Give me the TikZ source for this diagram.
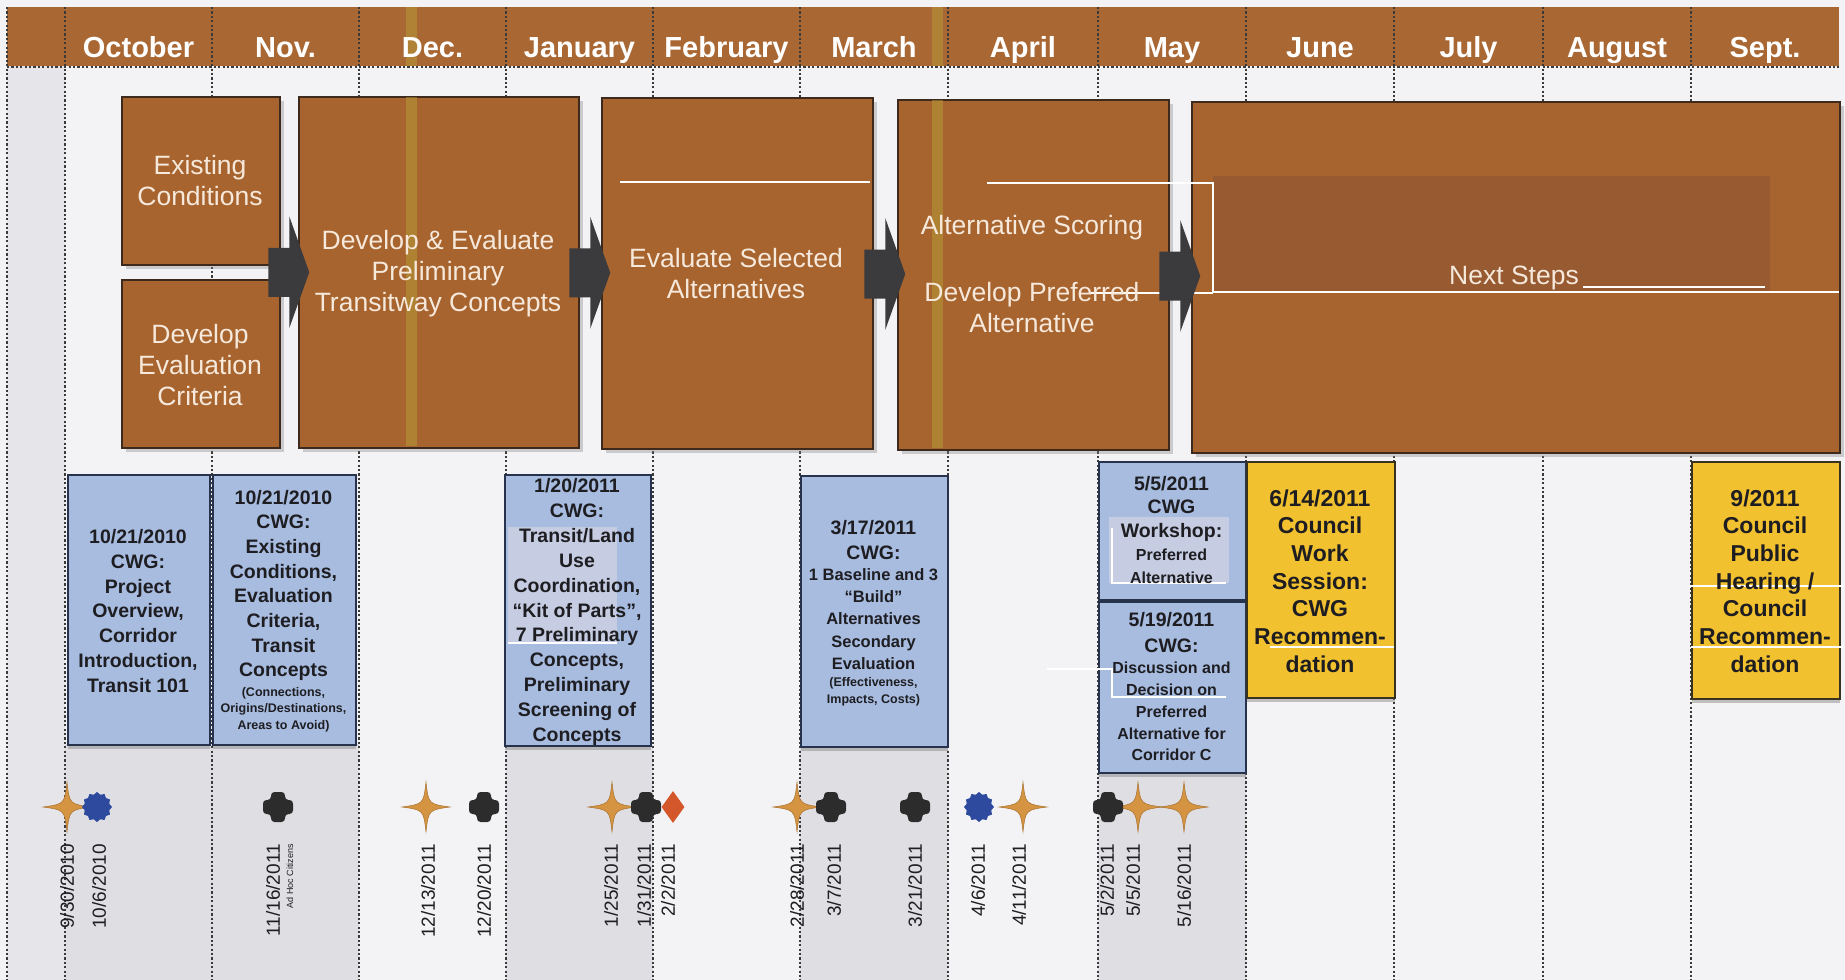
\documentclass[tikz,border=0pt]{standalone}
\usepackage{fontspec}
\setmainfont{Liberation Sans}
\usetikzlibrary{shapes.geometric,shadows,calc}
\definecolor{hdrcol}{HTML}{A96733}
\definecolor{boxbrown}{HTML}{A7642F}
\definecolor{boxedge}{HTML}{3E2A1C}
\definecolor{stripecol}{HTML}{B9A538}
\definecolor{bgcol}{HTML}{F3F3F5}
\definecolor{leftcol}{HTML}{E6E6EA}
\definecolor{shadecol}{HTML}{DFDFE3}
\definecolor{gridcol}{HTML}{3A3A3A}
\definecolor{proctextcol}{HTML}{F6E9DC}
\definecolor{bluefill}{HTML}{A8BCE0}
\definecolor{bluedge}{HTML}{27324D}
\definecolor{yellowfill}{HTML}{F2C12F}
\definecolor{yellowedge}{HTML}{3A3220}
\definecolor{inkcol}{HTML}{1E1E22}
\definecolor{arrowcol}{HTML}{3B3B3D}
\definecolor{starcol}{HTML}{D49442}
\definecolor{stardark}{HTML}{A8702E}
\definecolor{bluemark}{HTML}{2D4A9E}
\definecolor{darkmark}{HTML}{2C2C2C}
\definecolor{redmark}{HTML}{D4572B}
\definecolor{nsdark}{HTML}{975A31}
\definecolor{patchcol}{HTML}{C6CCE1}
\tikzset{
  gridline/.style={draw=gridcol, line width=1.6pt, dash pattern=on 2.2pt off 2.2pt},
  monthlbl/.style={font=\fontsize{29}{33}\selectfont\bfseries, text=white, inner sep=0, anchor=base},
  procbox/.style={fill=boxbrown, draw=boxedge, line width=1.5pt, inner sep=0, anchor=north west,
    drop shadow={shadow xshift=4pt, shadow yshift=-4pt, opacity=.35}},
  proctext/.style={font=\fontsize{26.5}{31}\selectfont, text=proctextcol, align=center, inner sep=0},
  bluebox/.style={fill=bluefill, draw=bluedge, line width=2pt, inner sep=0, anchor=north west,
    drop shadow={shadow xshift=0pt, shadow yshift=-4pt, opacity=.45}},
  yellowbox/.style={fill=yellowfill, draw=yellowedge, line width=2pt, inner sep=0, anchor=north west,
    drop shadow={shadow xshift=0pt, shadow yshift=-4pt, opacity=.45}},
  cwgtext/.style={font=\fontsize{19.5}{24.7}\selectfont\bfseries, text=inkcol, align=center, inner sep=0},
  midtext/.style={font=\fontsize{16.5}{22.4}\selectfont\bfseries, text=inkcol, align=center, inner sep=0},
  smalltext/.style={font=\fontsize{12.5}{16.5}\selectfont\bfseries, text=inkcol, align=center, inner sep=0},
  yeltext/.style={font=\fontsize{23}{27.7}\selectfont\bfseries, text=inkcol, align=center, inner sep=0},
  datelbl/.style={rotate=90, anchor=east, font=\fontsize{19}{21}\selectfont, text=inkcol, inner sep=0},
  bluedot/.style={star, star points=12, star point ratio=1.18, minimum size=30pt, inner sep=0, fill=bluemark},
  reddiamond/.style={diamond, minimum width=23pt, minimum height=32pt, inner sep=0, fill=redmark},
  artline/.style={draw=white, line width=1.5pt},
  stripe/.style={fill=stripecol, opacity=.45},
  pics/fourstar/.style={code={\fill[starcol, draw=stardark, line width=.5pt]
    (0,-25) .. controls (2.5,-3) .. (24,0) .. controls (2.5,3) .. (0,25)
    .. controls (-2.5,3) .. (-24,0) .. controls (-2.5,-3) .. cycle;}},
  pics/darkcross/.style={code={\fill[darkmark, rounded corners=3.5pt]
    (-7,-15) -- (7,-15) -- (7,-7) -- (15,-7) -- (15,7) -- (7,7) -- (7,15) -- (-7,15)
    -- (-7,7) -- (-15,7) -- (-15,-7) -- (-7,-7) -- cycle;}},
  pics/blockarrow/.style={code={\fill[arrowcol]
    (-21,-24.5) -- (0,-24.5) -- (0,-56) -- (20,0) -- (0,56) -- (0,24.5) -- (-21,24.5) -- cycle;}}
}
\begin{document}
\begin{tikzpicture}[x=1pt,y=-1pt]
\useasboundingbox (0,0) rectangle (1845,980);
% background
\fill[bgcol] (0,0) rectangle (1845,980);
\fill[leftcol] (7,66) rectangle (65,980);
\fill[shadecol] (65,744) rectangle (359,980);
\fill[shadecol] (506,745) rectangle (653,980);
\fill[shadecol] (800,746) rectangle (948,980);
\fill[shadecol] (1098,772) rectangle (1246,980);
% header
\fill[hdrcol] (7,7) rectangle (1839,66);
\fill[stripe] (406,7) rectangle (417,66);
\fill[stripe] (932,7) rectangle (943,66);
% grid
\foreach \gx in {7,65,212,359,506,653,800,948,1098,1246,1394,1543,1691}
  \draw[gridline] (\gx,7) -- (\gx,980);
\draw[gridline] (7,67) -- (1839,67);
% months
\node[monthlbl] (m01) at (138.5,57) {October};
\node[monthlbl] (m02) at (285.5,57) {Nov.};
\node[monthlbl] (m03) at (432.5,57) {Dec.};
\node[monthlbl] (m04) at (579.5,57) {January};
\node[monthlbl] (m05) at (726.5,57) {February};
\node[monthlbl] (m06) at (874,57) {March};
\node[monthlbl] (m07) at (1023,57) {April};
\node[monthlbl] (m08) at (1172,57) {May};
\node[monthlbl] (m09) at (1320,57) {June};
\node[monthlbl] (m10) at (1468.5,57) {July};
\node[monthlbl] (m11) at (1617,57) {August};
\node[monthlbl] (m12) at (1765,57) {Sept.};
% process boxes
\node[procbox, minimum width=158pt, minimum height=168pt] (ec) at (121,96) {};
\node[procbox, minimum width=158pt, minimum height=168pt] (dec) at (121,279) {};
\node[procbox, minimum width=280pt, minimum height=351pt] (dep) at (298,96) {};
\node[procbox, minimum width=271pt, minimum height=351pt] (esa) at (601,97) {};
\node[procbox, minimum width=271pt, minimum height=350pt] (asd) at (897,99) {};
\node[procbox, minimum width=648pt, minimum height=351pt] (ns) at (1191,101) {};
\fill[stripe] (406,97) rectangle (417,446);
\fill[stripe] (932,100) rectangle (943,448);
\fill[nsdark] (1213,176) rectangle (1770,292);
\draw[artline] (620,182) -- (870,182);
\draw[artline] (987,183) -- (1213,183) -- (1213,292) -- (1839,292);
\draw[artline] (1091,293) -- (1213,293);
\draw[artline] (1583,287) -- (1765,287);
\node[proctext] (ect) at (200,181) {Existing\\Conditions};
\node[proctext] (dect) at (200,365) {Develop\\Evaluation\\Criteria};
\node[proctext] (dept) at (438,274) {Develop \& Evaluate\\Preliminary\\Transitway Concepts};
\node[proctext] (esat) at (736,274) {Evaluate Selected\\Alternatives};
\node[proctext] (asdt1) at (1032,228) {Alternative Scoring};
\node[proctext] (asdt2) at (1032,308) {Develop Preferred\\Alternative};
\node[proctext] (nst) at (1514,278) {Next Steps};
% arrows between process boxes
\pic at ($(ec.east |- dep.west)!.5!(dep.west)$) {blockarrow};
\pic at ($(dep.east)!.5!(esa.west)$) {blockarrow};
\pic at ($(esa.east)!.5!(asd.west)$) {blockarrow};
\pic at ($(asd.east)!.5!(ns.west)$) {blockarrow};
% meeting boxes
\node[bluebox, minimum width=142pt, minimum height=270pt] (b1) at (67,474) {};
\node[bluebox, minimum width=143pt, minimum height=270pt] (b2) at (212,474) {};
\node[bluebox, minimum width=146pt, minimum height=271pt] (b3) at (504,474) {};
\node[bluebox, minimum width=147pt, minimum height=271pt] (b4) at (800,475) {};
\node[bluebox, minimum width=147pt, minimum height=138pt] (b5) at (1098,461) {};
\node[bluebox, minimum width=147pt, minimum height=171pt] (b6) at (1098,601) {};
\node[yellowbox, minimum width=148pt, minimum height=236pt] (y1) at (1246,461) {};
\node[yellowbox, minimum width=148pt, minimum height=237pt] (y2) at (1691,461) {};
\fill[patchcol] (508,527) rectangle (617,643);
\draw[artline] (508,643) -- (617,643);
\fill[patchcol] (1109,517) rectangle (1229,583);
\draw[artline] (1112,528) -- (1112,583) -- (1226,583);
\draw[artline] (1047,669) -- (1112,669) -- (1112,697) -- (1226,697);
\draw[artline] (1270,647) -- (1394,647);
\draw[artline] (1691,647) -- (1843,647);
\draw[artline] (1690,586) -- (1843,586);
\node[cwgtext] (b1t) at (138,611) {10/21/2010\\CWG:\\Project\\Overview,\\Corridor\\Introduction,\\Transit 101};
\node[cwgtext] (b2t) at (283.5,585.4) {10/21/2010\\CWG:\\Existing\\Conditions,\\Evaluation\\Criteria,\\Transit\\Concepts};
\node[smalltext] (b2s) at (283.5,709.5) {(Connections,\\Origins/Destinations,\\Areas to Avoid)};
\node[cwgtext, font=\fontsize{19.5}{24.9}\selectfont\bfseries] (b3t) at (577,612) {1/20/2011\\CWG:\\Transit/Land\\Use\\Coordination,\\“Kit of Parts”,\\7 Preliminary\\Concepts,\\Preliminary\\Screening of\\Concepts};
\node[cwgtext, font=\fontsize{19.5}{25}\selectfont\bfseries] (b4t) at (873.5,540.5) {3/17/2011\\CWG:};
\node[midtext] (b4m) at (873.5,619) {1 Baseline and 3\\“Build”\\Alternatives\\Secondary\\Evaluation};
\node[smalltext] (b4s) at (873.5,692) {(Effectiveness,\\Impacts, Costs)};
\node[cwgtext, font=\fontsize{19.5}{23.5}\selectfont\bfseries] (b5t) at (1171.5,508.5) {5/5/2011\\CWG\\Workshop:};
\node[midtext, font=\fontsize{16}{22.5}\selectfont\bfseries] (b5m) at (1171.5,566.5) {Preferred\\Alternative};
\node[cwgtext, font=\fontsize{19.5}{26}\selectfont\bfseries] (b6t) at (1171.5,633) {5/19/2011\\CWG:};
\node[midtext, font=\fontsize{16}{21.8}\selectfont\bfseries] (b6m) at (1171.5,711.5) {Discussion and\\Decision on\\Preferred\\Alternative for\\Corridor C};
\node[yeltext] (y1t) at (1320,581) {6/14/2011\\Council\\Work\\Session:\\CWG\\Recommen-\\dation};
\node[yeltext] (y2t) at (1765,581) {9/2011\\Council\\Public\\Hearing /\\Council\\Recommen-\\dation};
% event markers
\pic at (67,807) {fourstar};
\pic at (426,807) {fourstar};
\pic at (612,807) {fourstar};
\pic at (797,807) {fourstar};
\pic at (1023,807) {fourstar};
\pic at (1138,807) {fourstar};
\pic at (1184,807) {fourstar};
\node[bluedot] (e02) at (97,807) {};
\node[bluedot] (e13) at (979,807) {};
\pic at (278,807) {darkcross};
\pic at (484,807) {darkcross};
\pic at (646,807) {darkcross};
\pic at (831,807) {darkcross};
\pic at (915,807) {darkcross};
\pic at (1108,807) {darkcross};
\node[reddiamond] (e08) at (673,807) {};
% date labels
\node[datelbl] (d01) at (67,844) {9/30/2010};
\node[datelbl] (d02) at (99,844) {10/6/2010};
\node[datelbl] (d03) at (273,844) {11/16/2011};
\node[datelbl, font=\fontsize{9}{10}\selectfont] (d03b) at (290,844) {Ad Hoc Citizens};
\node[datelbl] (d04) at (428,844) {12/13/2011};
\node[datelbl] (d05) at (484,844) {12/20/2011};
\node[datelbl] (d06) at (611,844) {1/25/2011};
\node[datelbl] (d07) at (644,844) {1/31/2011};
\node[datelbl] (d08) at (668,844) {2/2/2011};
\node[datelbl] (d09) at (797,844) {2/28/2011};
\node[datelbl] (d10) at (834,844) {3/7/2011};
\node[datelbl] (d11) at (915,844) {3/21/2011};
\node[datelbl] (d12) at (978,844) {4/6/2011};
\node[datelbl] (d13) at (1019,844) {4/11/2011};
\node[datelbl] (d14) at (1107,844) {5/2/2011};
\node[datelbl] (d15) at (1133,844) {5/5/2011};
\node[datelbl] (d16) at (1184,844) {5/16/2011};
\end{tikzpicture}
\end{document}
